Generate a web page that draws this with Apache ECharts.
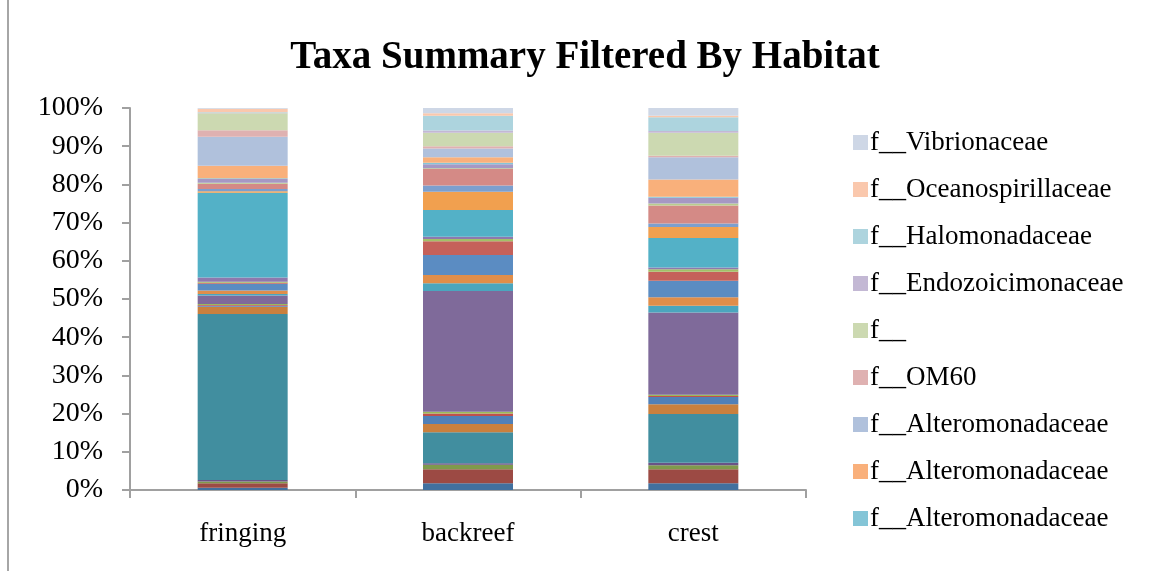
<!DOCTYPE html>
<html>
<head>
<meta charset="utf-8">
<script src="https://cdn.jsdelivr.net/npm/echarts@6/dist/echarts.min.js"></script>
<style>
html,body{margin:0;padding:0;background:#fff;}
#c{width:1157px;height:571px;}
</style>
</head>
<body>
<div id="c"></div>
<script>
// Categories (habitats)
var categories = ['fringing', 'backreef', 'crest'];

// Series names, bottom of stack first (legend shows only the top nine)
var seriesNames = [
  'taxon 1','taxon 2','taxon 3','taxon 4','taxon 5','taxon 6','taxon 7','taxon 8',
  'taxon 9','taxon 10','taxon 11','taxon 12','taxon 13','taxon 14','taxon 15','taxon 16',
  'taxon 17','taxon 18','taxon 19','taxon 20','taxon 21','taxon 22',
  'f__Alteromonadaceae#1','f__Alteromonadaceae#2','f__Alteromonadaceae#3',
  'f__OM60','f__','f__Endozoicimonaceae','f__Halomonadaceae','f__Oceanospirillaceae','f__Vibrionaceae'
];

// Percent values per habitat, in the same order as seriesNames
var fringing = [0.6,1.15,0.45,0.4,43.5,1.9,0.25,0.2,0.25,2.2,0.4,0.9,1.8,0.25,0.25,1.1,22.2,0.4,0.6,1.4,0.2,1.0,0.2,3.3,7.6,1.7,4.4,0.1,0.2,0.9,0.2];
var backreef = [1.75,3.65,1.2,0.4,8.1,2.2,2.1,0.6,0.5,31.6,2.0,2.2,5.2,3.6,0.6,0.6,7.0,4.8,1.6,4.3,0.2,1.1,0.4,1.4,2.3,0.6,3.5,0.6,3.9,0.6,1.4];
var crest    = [1.75,3.65,1.1,0.6,12.8,2.5,1.9,0.3,0.3,21.5,1.8,2.2,4.3,2.4,0.6,0.5,7.7,2.9,0.9,4.7,0.5,1.5,0.3,4.5,5.8,0.4,6.0,0.5,3.6,0.4,2.0];

// Y tick labels
var yTicks = [0,10,20,30,40,50,60,70,80,90,100];

// Legend entries (top to bottom)
var legendNames = ['f__Vibrionaceae','f__Oceanospirillaceae','f__Halomonadaceae','f__Endozoicimonaceae','f__','f__OM60','f__Alteromonadaceae#3','f__Alteromonadaceae#2','f__Alteromonadaceae#1'];

var colors = [
  '#41709F','#9C4A44','#7F9A4C','#6A5386','#418E9F','#C9803E',
  '#5080B8','#C0504D','#9BBB59','#7F6A9A','#4BA6BE','#E08E4A',
  '#5B8CC2','#C5615A','#A3C068','#8F79AD','#53B1C7','#F1A04F',
  '#7C9FCE','#D48A86','#B9CD8E','#A698C4','#84C5D7','#F9B07B',
  '#B0C1DC','#DFB1B1','#CCD9B1','#C3B8D4','#ADD4DE','#FAC8AD','#CED7E6'
];

var cols = [fringing, backreef, crest];
var sums = cols.map(function(a){ return a.reduce(function(s,v){return s+v;},0); });

var series = seriesNames.map(function(n, i){
  return {
    name: n,
    type: 'bar',
    stack: 'total',
    barWidth: 90,
    itemStyle: { color: colors[i] },
    emphasis: { disabled: true },
    data: cols.map(function(a, k){ return a[i] / sums[k] * 100; })
  };
});

var FONT = '"Liberation Serif", "DejaVu Serif", serif';
var chart = echarts.init(document.getElementById('c'), null, {renderer: 'canvas'});
chart.setOption({
  animation: false,
  backgroundColor: '#ffffff',
  title: {
    text: 'Taxa Summary Filtered By Habitat',
    left: 580, top: 33, textAlign: 'center',
    textStyle: { fontFamily: FONT, fontWeight: 'bold', fontSize: 39, color: '#000' }
  },
  legend: {
    orient: 'vertical',
    left: 848, top: 124,
    itemWidth: 15, itemHeight: 15, itemGap: 20,
    icon: 'rect',
    data: legendNames,
    formatter: function(n){ return n.replace(/#\d+$/, ''); },
    textStyle: { fontFamily: FONT, fontSize: 27, color: '#000', lineHeight: 24, padding: [0,0,0,-3] }
  },
  graphic: [
    { type: 'line', shape: { x1: 8, y1: 0, x2: 8, y2: 571 }, style: { stroke: '#a6a6a6', lineWidth: 2 } }
  ],
  grid: { left: 130, right: 351, top: 108, bottom: 81 },
  xAxis: {
    type: 'category',
    data: categories,
    axisLine: { lineStyle: { color: '#a0a0a0', width: 2 } },
    axisTick: { show: true, length: 8, lineStyle: { color: '#a0a0a0', width: 2 } },
    axisLabel: { fontFamily: FONT, fontSize: 27, color: '#000', margin: 30 }
  },
  yAxis: {
    type: 'value',
    min: 0, max: 100, interval: 10,
    splitLine: { show: false },
    axisLine: { show: true, lineStyle: { color: '#a0a0a0', width: 2 } },
    axisTick: { show: true, length: 8, lineStyle: { color: '#a0a0a0', width: 2 } },
    axisLabel: {
      fontFamily: FONT, fontSize: 28, color: '#000', margin: 27,
      formatter: function(v){ return yTicks.indexOf(v) >= 0 ? v + '%' : ''; }
    }
  },
  series: series
});
</script>
</body>
</html>
